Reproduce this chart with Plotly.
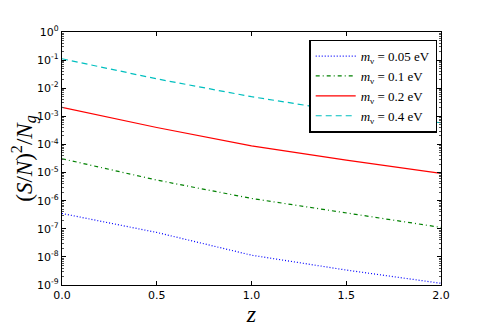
import numpy as np
import plotly.graph_objects as go

# redshift samples
z = [0.0, 0.5, 1.0, 1.5, 2.0]

# (S/N)^2 / N_g, one list per neutrino mass
sn_005 = [3.5e-7, 7.4e-8, 1.15e-8, 3.4e-9, 1.15e-9]
sn_01 = [3.1e-5, 5.4e-6, 1.2e-6, 3.7e-7, 1.12e-7]
sn_02 = [2.1e-3, 4.0e-4, 8.9e-5, 2.75e-5, 9.3e-6]
sn_04 = [1.12e-1, 2.15e-2, 5.0e-3, 1.45e-3, 5.9e-4]

labels = ['<i>m</i><sub>ν</sub> = 0.05 eV', '<i>m</i><sub>ν</sub> = 0.1 eV',
          '<i>m</i><sub>ν</sub> = 0.2 eV', '<i>m</i><sub>ν</sub> = 0.4 eV']

xticks = [0.0, 0.5, 1.0, 1.5, 2.0]
ydecades = list(range(-9, 1))

fig = go.Figure()
styles = [('#0000ff', '1px,2px'), ('#008000', '4px,3px,1px,3px'),
          ('#ff0000', 'solid'), ('#00bfbf', '6px,4px')]
for ys, lab, (col, dash) in zip([sn_005, sn_01, sn_02, sn_04], labels, styles):
    fig.add_trace(go.Scatter(x=z, y=ys, mode='lines', name=lab,
                             line=dict(color=col, dash=dash, width=1.2)))

minor_vals = [m * 10.0 ** d for d in range(-9, 0) for m in range(2, 10)]

# the page body adds an 8px offset, so the figure is 8px smaller than the window
fig.update_layout(
    width=483, height=319,
    margin=dict(l=54, r=50, t=24, b=42),
    paper_bgcolor='white', plot_bgcolor='white',
    font=dict(family='DejaVu Sans', size=11, color='black'),
    legend=dict(
        x=0.99, y=0.97, xanchor='right', yanchor='top',
        bordercolor='black', borderwidth=1.5, bgcolor='white',
        font=dict(family='Liberation Serif', size=13),
        tracegroupgap=0, itemwidth=40,
    ),
    xaxis=dict(
        range=[0, 2], tickvals=xticks, ticktext=['%.1f' % v for v in xticks],
        ticks='inside', ticklen=4, tickcolor='black',
        showline=True, linecolor='black', linewidth=1.2, mirror='ticks',
        showgrid=False, zeroline=False, automargin=False,
        title=dict(text='<i>z</i>', font=dict(family='Liberation Serif', size=24), standoff=4),
    ),
    yaxis=dict(
        type='log', range=[-9, 0],
        tickvals=[10.0 ** d for d in ydecades],
        ticktext=['10<sup>%d</sup>' % d for d in ydecades],
        ticks='inside', ticklen=4, tickcolor='black',
        minor=dict(ticks='inside', ticklen=2, tickcolor='#555', tickvals=minor_vals),
        showline=True, linecolor='black', linewidth=1.2, mirror='ticks',
        showgrid=False, zeroline=False, automargin=False,
        title=dict(text='(<i>S</i>/<i>N</i>)<sup>2</sup>/<i>N</i><sub><i>g</i></sub>',
                   font=dict(family='Liberation Serif', size=23), standoff=0),
    ),
)

fig.write_html("out.html")
